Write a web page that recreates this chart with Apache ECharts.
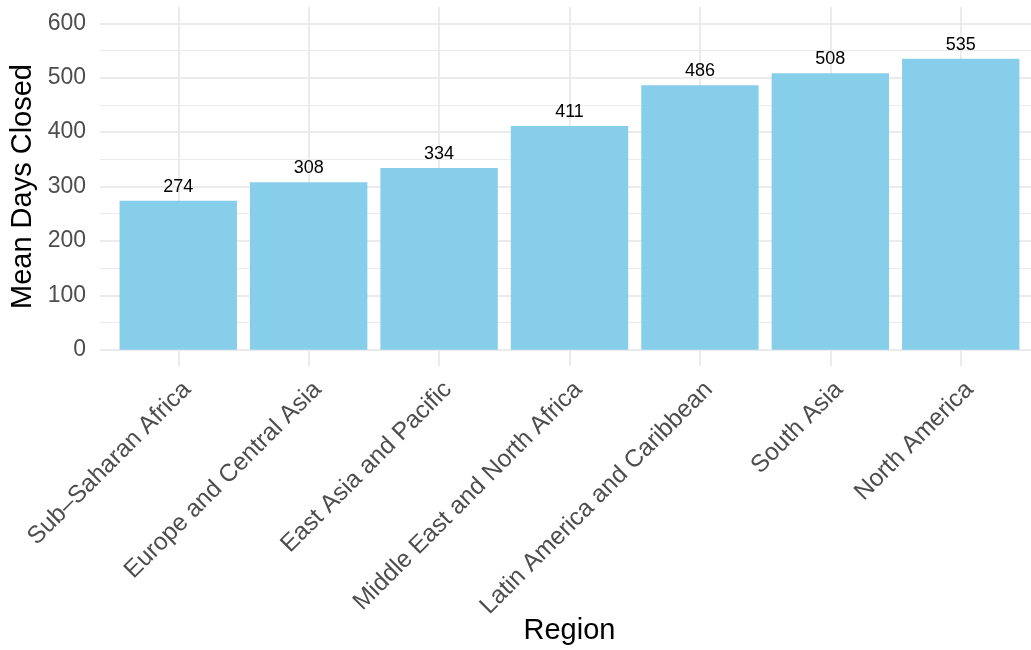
<!DOCTYPE html>
<html><head><meta charset="utf-8">
<script src="https://cdn.jsdelivr.net/npm/echarts@6/dist/echarts.min.js"></script>
<style>html,body{margin:0;padding:0;background:#fff}#c{width:1031px;height:650px}</style>
</head><body><div id="c"></div>
<script>
const categories = ['Sub–Saharan Africa','Europe and Central Asia','East Asia and Pacific','Middle East and North Africa','Latin America and Caribbean','South Asia','North America'];
const meanDays = [274, 308, 334, 411, 486, 508, 535];
const yTickValues = [0, 100, 200, 300, 400, 500, 600];
const yMinorValues = [50, 150, 250, 350, 450, 550];

const font = '"Liberation Sans", Arial, sans-serif';
const positions = categories.map((c, i) => i + 1);
const gridLines = [
  ...yTickValues.map(v => ({ yAxis: v, lineStyle: { width: 2 } })),
  ...yMinorValues.map(v => ({ yAxis: v, lineStyle: { width: 1 } })),
  ...positions.map(p => ({ xAxis: p, lineStyle: { width: 2 } }))
];

const chart = echarts.init(document.getElementById('c'), null, { renderer: 'canvas' });
chart.setOption({
  animation: false,
  backgroundColor: '#fff',
  grid: { left: 100, top: 7, width: 939, height: 359, outerBoundsMode: 'none', containLabel: false },
  xAxis: {
    type: 'value', min: 0.4, max: 7.6,
    name: 'Region', nameLocation: 'middle', nameGap: 250, nameMoveOverlap: false,
    nameTextStyle: { fontSize: 29, color: '#000', fontFamily: font, verticalAlign: 'top' },
    axisLine: { show: false }, axisTick: { show: false }, splitLine: { show: false },
    axisLabel: {
      customValues: positions,
      formatter: v => categories[Math.round(v) - 1],
      rotate: 45, align: 'right', verticalAlign: 'top', margin: 11,
      fontSize: 24.5, color: '#4d4d4d', fontFamily: font
    }
  },
  yAxis: {
    type: 'value', min: -30, max: 630,
    name: 'Mean Days Closed', nameLocation: 'middle', nameGap: 63, nameMoveOverlap: false,
    nameTextStyle: { fontSize: 29, color: '#000', fontFamily: font },
    axisLine: { show: false }, axisTick: { show: false }, splitLine: { show: false },
    axisLabel: {
      customValues: yTickValues,
      margin: 14, fontSize: 23, color: '#4d4d4d', fontFamily: font
    }
  },
  series: [
    {
      type: 'line', data: [], silent: true, z: 1,
      markLine: {
        silent: true, symbol: 'none', z: 1, animation: false,
        label: { show: false },
        lineStyle: { color: '#ebebeb', type: 'solid' },
        emphasis: { disabled: true },
        data: gridLines
      }
    },
    {
      type: 'bar', z: 10,
      data: meanDays.map((v, i) => [positions[i], v]),
      barWidth: '90%',
      itemStyle: { color: '#87CEEB' },
      label: {
        show: true, position: 'top', distance: 5,
        formatter: p => p.value[1],
        fontSize: 18, color: '#000', fontFamily: font
      }
    }
  ]
});
</script></body></html>
